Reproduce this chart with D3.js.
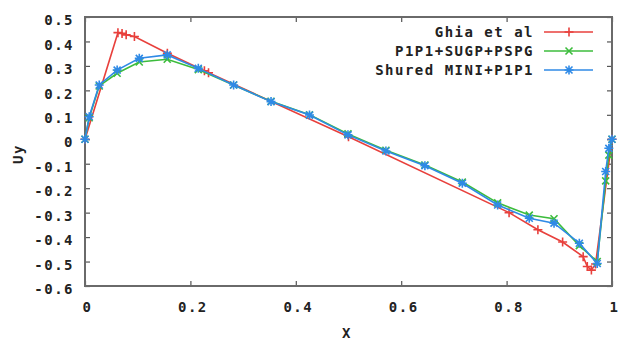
<!DOCTYPE html>
<html>
<head>
<meta charset="utf-8">
<script src="https://cdn.jsdelivr.net/npm/d3@7"></script>
<style>
  body { margin: 0; background: #fff; }
  text { font-family: "DejaVu Sans Mono", monospace; font-weight: bold; font-size: 14px; letter-spacing: 1.5px; fill: #222; }
</style>
</head>
<body>
<script>
// series
var ghiaX = [0, 0.0625, 0.0703, 0.0781, 0.0938, 0.1563, 0.2266, 0.2344, 0.5, 0.8047, 0.8594, 0.9063, 0.9453, 0.9531, 0.9609, 0.9688, 1];
var ghiaY = [0, 0.436, 0.433, 0.427, 0.42, 0.352, 0.28, 0.272, 0.01, -0.30, -0.37, -0.42, -0.48, -0.52, -0.535, -0.51, 0];

var femX = [0, 0.008, 0.027, 0.061, 0.103, 0.156, 0.215, 0.282, 0.353, 0.426, 0.499, 0.571, 0.645, 0.716, 0.783, 0.843, 0.89, 0.938, 0.972, 0.988, 0.994, 1];
var supgY = [0, 0.088, 0.218, 0.27, 0.316, 0.327, 0.285, 0.222, 0.155, 0.1, 0.022, -0.045, -0.105, -0.175, -0.26, -0.31, -0.325, -0.435, -0.5, -0.17, -0.065, 0];
var miniY = [0, 0.092, 0.222, 0.283, 0.331, 0.345, 0.29, 0.222, 0.154, 0.099, 0.018, -0.048, -0.108, -0.18, -0.269, -0.323, -0.343, -0.425, -0.508, -0.132, -0.037, 0];

var seriesNames = ['Ghia et al', 'P1P1+SUGP+PSPG', 'Shured MINI+P1P1'];
var seriesColors = ['#e8403c', '#3cbc3c', '#2f8ae6'];

var xTicks = [0, 0.2, 0.4, 0.6, 0.8, 1];
var xTickLabels = ['0', '0.2', '0.4', '0.6', '0.8', '1'];
var yTicks = [-0.6, -0.5, -0.4, -0.3, -0.2, -0.1, 0, 0.1, 0.2, 0.3, 0.4, 0.5];
var yTickLabels = ['-0.6', '-0.5', '-0.4', '-0.3', '-0.2', '-0.1', '0', '0.1', '0.2', '0.3', '0.4', '0.5'];

var width = 619, height = 340;
var plotL = 85, plotR = 612, plotT = 17, plotB = 286;

var svg = d3.select('body').append('svg')
    .attr('width', width)
    .attr('height', height);

var x = d3.scaleLinear().domain([0, 1]).range([plotL, plotR]);
var y = d3.scaleLinear().domain([-0.6, 0.5]).range([plotB, plotT]);

function tickFmt(vals, labels) {
    return function(d) { return labels[vals.indexOf(d)]; };
}

// axes, ticks pointing inward, mirrored on top/right
var axL = svg.append('g').attr('transform', 'translate(' + plotL + ',0)')
    .call(d3.axisLeft(y).tickValues(yTicks).tickFormat(tickFmt(yTicks, yTickLabels))
        .tickSizeInner(-5).tickSizeOuter(0).tickPadding(11));
axL.selectAll('text').attr('dy', '0.55em');
var axB = svg.append('g').attr('transform', 'translate(0,' + plotB + ')')
    .call(d3.axisBottom(x).tickValues(xTicks).tickFormat(tickFmt(xTicks, xTickLabels))
        .tickSizeInner(-5).tickSizeOuter(0).tickPadding(16));
axB.selectAll('text').attr('dx', 2);
svg.append('g').attr('transform', 'translate(' + plotR + ',0)')
    .call(d3.axisRight(y).tickValues(yTicks).tickFormat('').tickSizeInner(-5).tickSizeOuter(0));
svg.append('g').attr('transform', 'translate(0,' + plotT + ')')
    .call(d3.axisTop(x).tickValues(xTicks).tickFormat('').tickSizeInner(-5).tickSizeOuter(0));
svg.selectAll('.domain').remove();
svg.selectAll('.tick line').attr('stroke', '#555').attr('stroke-width', 1.2);
svg.selectAll('g').attr('font-family', null).attr('font-size', null);

svg.append('rect')
    .attr('x', plotL).attr('y', plotT)
    .attr('width', plotR - plotL).attr('height', plotB - plotT)
    .attr('fill', 'none').attr('stroke', '#6a6a6a').attr('stroke-width', 2);

svg.append('text').attr('x', 347).attr('y', 338).attr('text-anchor', 'middle').text('X');
svg.append('text').attr('transform', 'translate(23,154) rotate(-90)').attr('text-anchor', 'middle').text('Uy');

// marker path generators
function plus(s) { return 'M' + (-s) + ',0H' + s + 'M0,' + (-s) + 'V' + s; }
function cross(s) { return 'M' + (-s) + ',' + (-s) + 'L' + s + ',' + s + 'M' + (-s) + ',' + s + 'L' + s + ',' + (-s); }
var markers = [plus(4.5), cross(3.5), plus(4.5) + cross(3.5)];

var series = [
    d3.zip(ghiaX, ghiaY),
    d3.zip(femX, supgY),
    d3.zip(femX, miniY)
];

var line = d3.line().x(function(d) { return x(d[0]); }).y(function(d) { return y(d[1]); });

series.forEach(function(pts, i) {
    var g = svg.append('g');
    g.append('path')
        .attr('d', line(pts))
        .attr('fill', 'none')
        .attr('stroke', seriesColors[i])
        .attr('stroke-width', 1.6);
    g.selectAll('path.m')
        .data(pts)
        .enter()
        .append('path')
        .attr('class', 'm')
        .attr('transform', function(d) { return 'translate(' + x(d[0]) + ',' + y(d[1]) + ')'; })
        .attr('d', markers[i])
        .attr('stroke', seriesColors[i])
        .attr('stroke-width', 1.6);

    // legend
    var ly = 32 + i * 19;
    svg.append('text')
        .attr('x', 534).attr('y', ly).attr('dy', '0.35em')
        .attr('text-anchor', 'end')
        .text(seriesNames[i]);
    svg.append('line')
        .attr('x1', 544).attr('x2', 593).attr('y1', ly).attr('y2', ly)
        .attr('stroke', seriesColors[i]).attr('stroke-width', 1.6);
    svg.append('path')
        .attr('transform', 'translate(569,' + ly + ')')
        .attr('d', markers[i])
        .attr('stroke', seriesColors[i]).attr('stroke-width', 1.6);
});
</script>
</body>
</html>
